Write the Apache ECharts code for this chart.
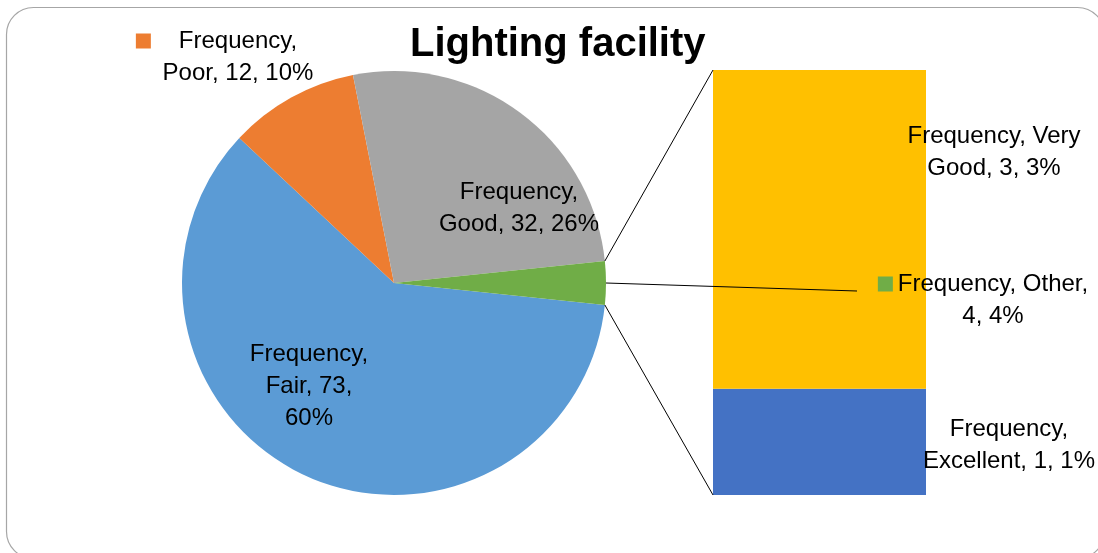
<!DOCTYPE html>
<html>
<head>
<meta charset="utf-8">
<script src="https://cdn.jsdelivr.net/npm/echarts@6/dist/echarts.min.js"></script>
<style>
  html, body { margin: 0; padding: 0; background: #ffffff; }
  #chart { width: 1098px; height: 553px; }
</style>
</head>
<body>
<div id="chart"></div>
<script>
// Survey answers about the lighting facility
const seriesName = 'Frequency';
const pieCategories = ['Fair', 'Poor', 'Good'];
const pieValues = [73, 12, 32];
const piePercents = [60, 10, 26];

// Answers grouped into the "Other" slice and broken out in the side column
const otherName = 'Other';
const otherPercent = 4;
const barCategories = ['Excellent', 'Very Good'];
const barValues = [1, 3];
const barPercents = [1, 3];

// ---- styling / layout ----
const FONT = '"Liberation Sans", Arial, sans-serif';
const colors = {
  Fair: '#5B9BD5', Poor: '#ED7D31', Good: '#A5A5A5', Other: '#70AD47',
  'Very Good': '#FFC000', Excellent: '#4472C4'
};
const PIE_CX = 394, PIE_CY = 283, PIE_R = 212;
const COL = { left: 713, top: 70, width: 213, height: 425 };

// label anchor (centre) for each category
const labelSpots = {
  Fair: [309, 386], Good: [519, 208], Poor: [238, 57], Other: [993, 300],
  'Very Good': [994, 152], Excellent: [1009, 445]
};
const otherLeaderEnd = [857, 291];
// word index after which each label wraps
const wrapAfter = {
  Fair: [1, 3], Poor: [1], Good: [1], Other: [2], 'Very Good': [2], Excellent: [1]
};

function wrapLines(name, value, pct) {
  const words = `${seriesName}, ${name}, ${value}, ${pct}%`.split(' ');
  const breaks = wrapAfter[name] || [];
  const lines = [];
  let cur = [];
  words.forEach((w, i) => {
    cur.push(w);
    if (breaks.indexOf(i + 1) >= 0) { lines.push(cur.join(' ')); cur = []; }
  });
  if (cur.length) lines.push(cur.join(' '));
  return lines;
}

const otherValue = barValues.reduce((a, b) => a + b, 0);
const pieTotal = pieValues.reduce((a, b) => a + b, 0) + otherValue;
const otherHalfAngle = otherValue / pieTotal * 180;

const pieNames = pieCategories.concat([otherName]);
const piePct = piePercents.concat([otherPercent]);

// labels carrying a small colour key in front of the first line
const keyedLabels = { Poor: { gap: 28, tail: 43 }, Other: { gap: 5, tail: 20 } };

function pieLabel(params) {
  const idx = params.dataIndex;
  const name = pieNames[idx];
  const lines = wrapLines(name, params.value, piePct[idx]);
  if (keyedLabels[name]) {
    lines[0] = '{key| }{gap| }' + lines[0] + '{tail| }';
  }
  return lines.join('\n');
}

const pieData = pieNames.map((name, i) => {
  const item = {
    name: name,
    value: i < pieValues.length ? pieValues[i] : otherValue,
    itemStyle: { color: colors[name] }
  };
  const keyed = keyedLabels[name];
  if (keyed) {
    item.label = {
      rich: {
        key: { width: 15, height: 15, backgroundColor: colors[name], lineHeight: 32 },
        gap: { width: keyed.gap, lineHeight: 32 },
        tail: { width: keyed.tail, lineHeight: 32 }
      }
    };
  }
  if (name === otherName) {
    item.label.position = 'outside';
    item.labelLine = { show: true, lineStyle: { color: '#000000', width: 1 } };
  }
  return item;
});

const labelFont = { color: '#000000', fontSize: 24, lineHeight: 32, fontFamily: FONT };

const barSeries = barCategories.map((name, i) => ({
  type: 'bar',
  name: name,
  stack: 'other',
  barWidth: '100%',
  xAxisIndex: 0,
  yAxisIndex: 0,
  data: [barValues[i]],
  itemStyle: { color: colors[name] },
  z: 2,
  label: Object.assign({
    show: true,
    formatter: (p) => wrapLines(name, p.value, barPercents[i]).join('\n')
  }, labelFont),
  labelLayout: () => ({
    x: labelSpots[name][0], y: labelSpots[name][1],
    align: 'center', verticalAlign: 'middle'
  })
}));

// series lines joining the "Other" slice to the column
const rad = otherHalfAngle * Math.PI / 180;
const edgeTop = [PIE_CX + PIE_R * Math.cos(rad), PIE_CY - PIE_R * Math.sin(rad)];
const edgeBottom = [PIE_CX + PIE_R * Math.cos(rad), PIE_CY + PIE_R * Math.sin(rad)];

const chart = echarts.init(document.getElementById('chart'), null, { renderer: 'canvas' });

chart.setOption({
  animation: false,
  backgroundColor: '#ffffff',
  title: {
    text: 'Lighting facility',
    left: 410,
    top: 25,
    padding: 0,
    textStyle: { color: '#000000', fontSize: 40, fontWeight: 'bold', fontFamily: FONT }
  },
  grid: { left: COL.left, top: COL.top, width: COL.width, height: COL.height, containLabel: false },
  xAxis: { type: 'category', data: [otherName], show: false },
  yAxis: { type: 'value', min: 0, max: otherValue, show: false },
  series: [
    {
      type: 'pie',
      name: seriesName,
      center: [PIE_CX, PIE_CY],
      radius: PIE_R,
      startAngle: 360 - otherHalfAngle,
      clockwise: true,
      avoidLabelOverlap: false,
      z: 3,
      itemStyle: { borderWidth: 0 },
      label: Object.assign({ show: true, position: 'inside', formatter: pieLabel }, labelFont),
      labelLine: { show: false },
      labelLayout: (params) => {
        const name = pieNames[params.dataIndex];
        const spot = labelSpots[name];
        const out = { x: spot[0], y: spot[1], align: 'center', verticalAlign: 'middle' };
        if (name === otherName) {
          const start = [PIE_CX + PIE_R, PIE_CY];
          out.labelLinePoints = [start, otherLeaderEnd, otherLeaderEnd];
        }
        return out;
      },
      data: pieData
    }
  ].concat(barSeries),
  graphic: [
    {
      type: 'rect', silent: true, z: 0,
      shape: { x: 6.5, y: 7.5, width: 1098, height: 551, r: 27 },
      style: { fill: 'none', stroke: '#A6A6A6', lineWidth: 1.2 }
    },
    {
      type: 'line', silent: true, z: 10,
      shape: { x1: edgeTop[0], y1: edgeTop[1], x2: COL.left, y2: COL.top },
      style: { stroke: '#000000', lineWidth: 1 }
    },
    {
      type: 'line', silent: true, z: 10,
      shape: { x1: edgeBottom[0], y1: edgeBottom[1], x2: COL.left, y2: COL.top + COL.height },
      style: { stroke: '#000000', lineWidth: 1 }
    }
  ]
});
</script>
</body>
</html>
